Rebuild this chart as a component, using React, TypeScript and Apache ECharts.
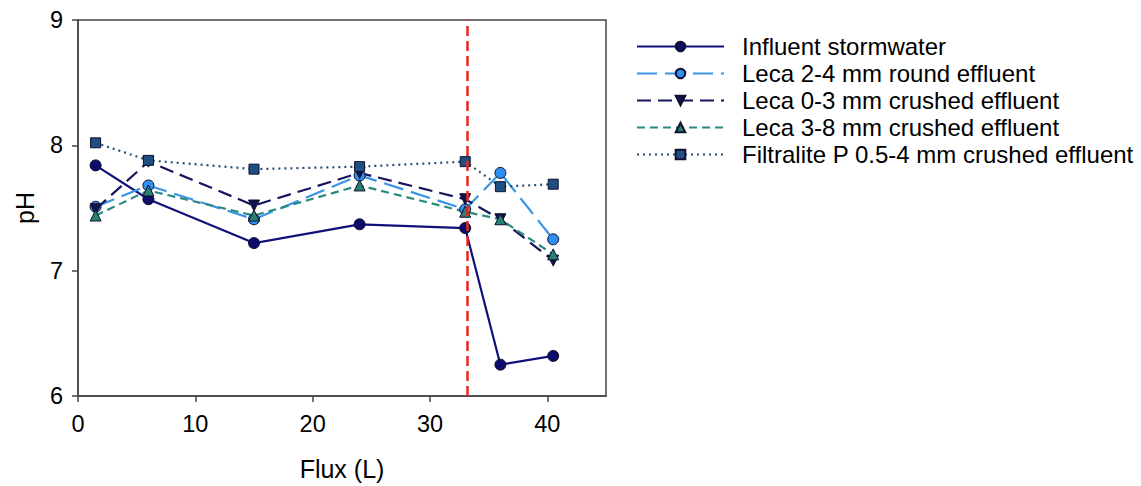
import React, { useEffect, useRef } from "react";
import * as echarts from "echarts";

const flux = [1.5, 6, 15, 24, 33, 36, 40.5];
const influent = [7.84, 7.57, 7.22, 7.37, 7.34, 6.25, 6.32];
const leca24 = [7.51, 7.68, 7.41, 7.76, 7.49, 7.78, 7.25];
const leca03 = [7.49, 7.87, 7.52, 7.78, 7.57, 7.41, 7.08];
const leca38 = [7.44, 7.64, 7.44, 7.68, 7.47, 7.41, 7.13];
const filtralite = [8.02, 7.88, 7.81, 7.83, 7.87, 7.67, 7.69];
const cutoffFlux = 33.2;

const xTicks = [0, 10, 20, 30, 40];
const yTicks = [6, 7, 8, 9];

const seriesNames = [
  "Influent stormwater",
  "Leca 2-4 mm round effluent",
  "Leca 0-3 mm crushed effluent",
  "Leca 3-8 mm crushed effluent",
  "Filtralite P 0.5-4 mm crushed effluent",
];

const pair = (ys: number[]) => flux.map((x, i) => [x, ys[i]]);

export default function App() {
  const ref = useRef<HTMLDivElement>(null);
  useEffect(() => {
    if (!ref.current) return;
    document.body.style.margin = "0";
    document.documentElement.style.overflow = "hidden";
    const chart = echarts.init(ref.current, null, { renderer: "svg", width: 1141, height: 486 });
    const font = "'Liberation Sans', Arial, sans-serif";
    const axisColor = "#444";
    const common = (name: string, ys: number[], color: string, fill: string, type: any, symbol: string, extra: any = {}) => ({
      name,
      type: "line",
      data: pair(ys),
      symbol,
      symbolSize: 11,
      lineStyle: { color, width: 2.2, type },
      itemStyle: { color: fill, borderColor: "#101030", borderWidth: 1 },
      ...extra,
    });
    chart.setOption({
      animation: false,
      textStyle: { fontFamily: font },
      grid: {
        left: 78,
        top: 20,
        right: 535,
        bottom: 86,
        show: true,
        borderColor: axisColor,
        borderWidth: 1.5,
        backgroundColor: "transparent",
      },
      legend: {
        orient: "vertical",
        left: 636,
        top: 33,
        padding: 0,
        itemWidth: 87,
        itemHeight: 12,
        itemGap: 0,
        selectedMode: false,
        data: seriesNames,
        textStyle: { fontSize: 24, color: "#000", lineHeight: 27, padding: [0, 0, 0, 13], fontFamily: font },
      },
      xAxis: {
        type: "value",
        min: 0,
        max: 45,
        interval: 10,
        name: "Flux (L)",
        nameLocation: "middle",
        nameGap: 60,
        nameTextStyle: { fontSize: 25, color: "#000", fontFamily: font },
        axisLine: { show: true, onZero: false, lineStyle: { color: axisColor, width: 1.5 } },
        axisTick: { show: true, inside: false, length: 6, customValues: xTicks, lineStyle: { color: axisColor, width: 1.5 } },
        axisLabel: { customValues: xTicks, fontSize: 23.5, color: "#000", margin: 16, fontFamily: font },
        splitLine: { show: false },
      },
      yAxis: {
        type: "value",
        min: 6,
        max: 9,
        interval: 1,
        name: "pH",
        nameLocation: "middle",
        nameRotate: 90,
        nameGap: 41,
        nameTextStyle: { fontSize: 25, color: "#000", fontFamily: font },
        axisLine: { show: true, onZero: false, lineStyle: { color: axisColor, width: 1.5 } },
        axisTick: { show: true, inside: false, length: 6, customValues: yTicks, lineStyle: { color: axisColor, width: 1.5 } },
        axisLabel: { customValues: yTicks, fontSize: 23.5, color: "#000", margin: 15, fontFamily: font },
        splitLine: { show: false },
      },
      series: [
        common(seriesNames[0], influent, "#10107a", "#0c0c6a", "solid", "circle"),
        common(seriesNames[1], leca24, "#3a94e6", "#2f8ff0", [20, 8], "circle"),
        common(seriesNames[2], leca03, "#16165e", "#12124e", [14, 7], "triangle", { symbolRotate: 180 }),
        common(seriesNames[3], leca38, "#2a8a80", "#2a7f73", [8, 5], "triangle"),
        common(seriesNames[4], filtralite, "#264d78", "#1f4f80", [2, 4], "rect", {
          symbolSize: 10,
          markLine: {
            silent: true,
            symbol: "none",
            label: { show: false },
            lineStyle: { color: "#e8281e", width: 2.5, type: [10, 5] },
            data: [{ xAxis: cutoffFlux }],
          },
        }),
      ],
    });
    return () => chart.dispose();
  }, []);
  return (
    <div
      ref={ref}
      style={{ position: "fixed", left: 0, top: 0, width: 1141, height: 486, background: "#fff", overflow: "hidden" }}
    />
  );
}
